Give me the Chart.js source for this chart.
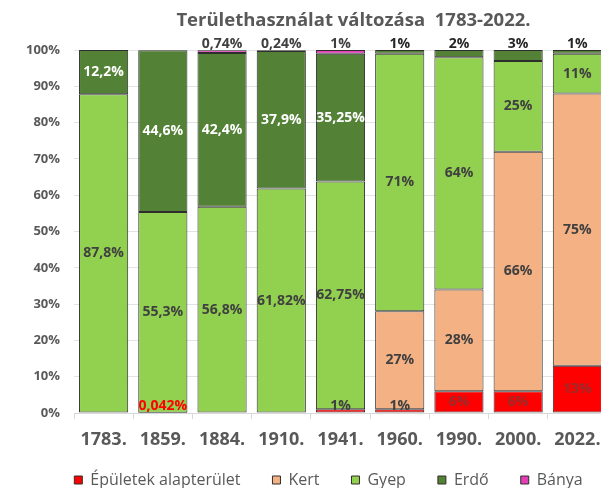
<!DOCTYPE html>
<html>
<head>
<meta charset="utf-8">
<script src="https://cdn.jsdelivr.net/npm/chart.js@4.4.1/dist/chart.umd.min.js"></script>
<style>
  html, body { margin: 0; padding: 0; background: #fff; }
  #wrap { width: 601px; height: 488px; overflow: hidden; }
</style>
</head>
<body>
<div id="wrap">
  <canvas id="landChart" width="660" height="488"></canvas>
</div>
<script>
const years = ['1783.', '1859.', '1884.', '1910.', '1941.', '1960.', '1990.', '2000.', '2022.'];
const epuletek = [0, 0.042, 0, 0, 1, 1, 6, 6, 13];
const kert = [0, 0, 0, 0, 0, 27, 28, 66, 75];
const gyep = [87.8, 55.3, 56.8, 61.82, 62.75, 71, 64, 25, 11];
const erdo = [12.2, 44.6, 42.4, 37.9, 35.25, 1, 2, 3, 1];
const banya = [0, 0, 0.74, 0.24, 1, 0, 0, 0, 0];

const FONT = '"Open Sans", "DejaVu Sans", sans-serif';
const GREY = '#595959';

// value labels drawn on / above the segments
const barLabels = {
    id: 'barLabels',
    afterDatasetsDraw(chart) {
        const ctx = chart.ctx;
        ctx.save();
        ctx.font = 'bold 14px ' + FONT;
        ctx.textAlign = 'center';
        ctx.textBaseline = 'middle';
        chart.data.datasets.forEach((ds, i) => {
            const meta = chart.getDatasetMeta(i);
            meta.data.forEach((bar, j) => {
                const v = ds.data[j];
                if (!v) return;
                const text = String(v).replace('.', ',') + '%';
                let y = (bar.y + bar.base) / 2;
                let color = ds.labelColor;
                if (v < 4) {
                    if (i === 0) {
                        y = bar.base - 6;
                        color = v < 0.5 ? '#FF0000' : '#404040';
                    } else {
                        y = bar.y - 6;
                        color = i === 3 ? '#262626' : '#404040';
                    }
                }
                ctx.fillStyle = color;
                ctx.fillText(text, bar.x, y);
            });
        });
        ctx.restore();
    }
};

// title and legend sit a bit off-centre in the original
const boxShift = {
    id: 'boxShift',
    afterLayout(chart) {
        const t = chart.titleBlock;
        if (t) { t.left += 50; t.right += 50; }
        const l = chart.legend;
        if (l) {
            l.left += 25; l.right += 25;
            l.top -= 13; l.bottom -= 13;
        }
    }
};

const ctx = document.getElementById('landChart').getContext('2d');

new Chart(ctx, {
    type: 'bar',
    data: {
        labels: years,
        datasets: [
            { label: 'Épületek alapterület', data: epuletek, backgroundColor: '#FF0000', labelColor: '#9B2B2B' },
            { label: 'Kert', data: kert, backgroundColor: '#F4B183', labelColor: '#404040' },
            { label: 'Gyep', data: gyep, backgroundColor: '#92D050', labelColor: '#404040' },
            { label: 'Erdő', data: erdo, backgroundColor: '#538135', labelColor: '#FFFFFF' },
            { label: 'Bánya', data: banya, backgroundColor: '#E43DB8', labelColor: '#404040' }
        ].map(d => Object.assign(d, {
            borderColor: '#2E2E2E',
            borderWidth: 1,
            borderSkipped: false,
            barPercentage: 0.83,
            categoryPercentage: 1
        }))
    },
    options: {
        responsive: false,
        animation: false,
        devicePixelRatio: 1,
        layout: { padding: { left: 0, right: 53, top: 0, bottom: -23 } },
        plugins: {
            title: {
                display: true,
                text: 'Területhasználat változása  1783-2022.',
                color: GREY,
                font: { family: FONT, size: 18.5, weight: 'bold' },
                padding: { top: 10, bottom: 17.8 }
            },
            legend: {
                position: 'bottom',
                labels: {
                    color: GREY,
                    font: { family: FONT, size: 16 },
                    boxWidth: 8,
                    boxHeight: 8,
                    padding: 32
                }
            },
            tooltip: { enabled: false }
        },
        scales: {
            x: {
                stacked: true,
                grid: {
                    offset: true,
                    drawOnChartArea: false,
                    drawTicks: true,
                    tickLength: 6,
                    color: '#D9D9D9'
                },
                border: { display: true, color: '#D9D9D9' },
                ticks: {
                    color: GREY,
                    padding: 10,
                    font: { family: FONT, size: 18, weight: 'bold' }
                },
                afterFit(scale) { scale.height = 40; }
            },
            y: {
                stacked: true,
                min: 0,
                max: 100,
                grid: { color: '#E3E3E3', drawTicks: false },
                border: { display: false },
                ticks: {
                    stepSize: 10,
                    padding: 14,
                    color: GREY,
                    font: { family: FONT, size: 13, weight: 'bold' },
                    callback: v => v + '%'
                },
                afterFit(scale) { scale.width = 74; }
            }
        }
    },
    plugins: [barLabels, boxShift]
});
</script>
</body>
</html>
